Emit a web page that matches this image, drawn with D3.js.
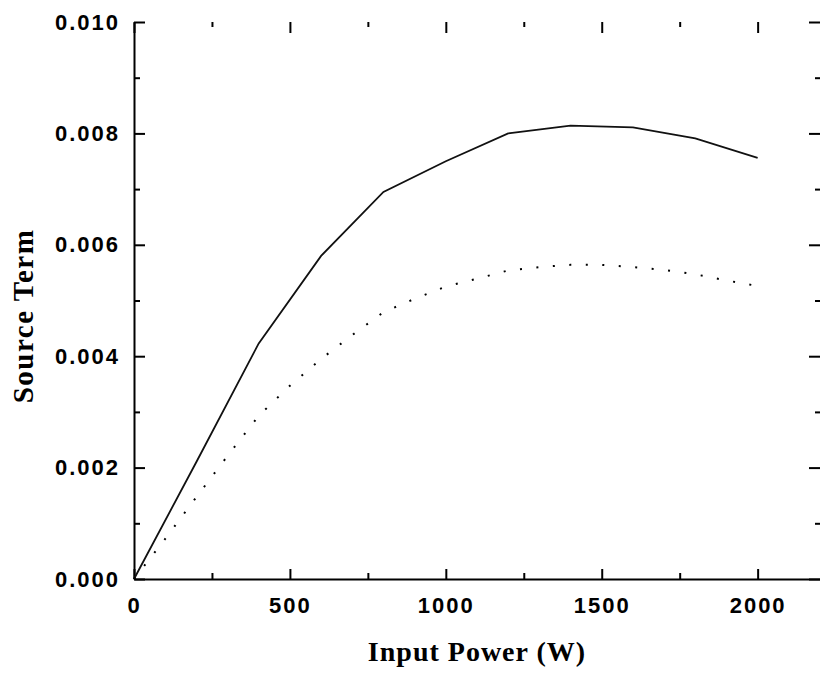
<!DOCTYPE html>
<html>
<head>
<meta charset="utf-8">
<script src="https://cdn.jsdelivr.net/npm/d3@7"></script>
<style>
  body { margin: 0; background: #fff; }
  svg { display: block; }
  .tick text { font-family: "Liberation Sans", Arial, sans-serif; font-weight: bold; font-size: 22px; letter-spacing: 2px; fill: #000; }
  .axis-title { font-family: "Liberation Serif", "Times New Roman", serif; font-weight: bold; fill: #000; }
</style>
</head>
<body>
<svg id="chart" width="820" height="675"></svg>
<script>
// input power (W)
const powerSolid = [0, 200, 400, 600, 800, 1000, 1200, 1400, 1600, 1800, 2000];
const sourceSolid = [0, 0.0021, 0.00423, 0.0058, 0.00695, 0.0075, 0.0080, 0.00814, 0.00811, 0.00791, 0.00756];

const powerDotted = [0, 100, 200, 300, 400, 500, 600, 700, 800, 900, 1000,
  1100, 1200, 1300, 1400, 1500, 1600, 1700, 1800, 1900, 2000];
const sourceDotted = [0, 0.00072, 0.00147, 0.00221, 0.00293, 0.00347, 0.00395, 0.00438, 0.00479, 0.00503, 0.00525,
  0.00539, 0.00554, 0.0056, 0.00564, 0.00564, 0.0056, 0.00555, 0.00547, 0.00536, 0.00526];

const xMajor = [0, 500, 1000, 1500, 2000];
const xMinor = [250, 750, 1250, 1750];
const yMajor = [0, 0.002, 0.004, 0.006, 0.008, 0.010];
const yMinor = [0.001, 0.003, 0.005, 0.007, 0.009];

const plotLeft = 134, plotRight = 820, plotTop = 22, plotBottom = 579;

function createScales() {
  const xScale = d3.scaleLinear().domain([0, 2200]).range([plotLeft, plotRight]);
  const yScale = d3.scaleLinear().domain([0, 0.010]).range([plotBottom, plotTop]);
  return { xScale, yScale };
}

function drawAxes(svg, xScale, yScale) {
  // left axis with labels, ticks point inward
  svg.append("g")
    .attr("class", "y-axis")
    .attr("transform", `translate(${plotLeft},0)`)
    .call(d3.axisLeft(yScale).tickValues(yMajor).tickSize(-11).tickSizeOuter(0)
      .tickPadding(14).tickFormat(d3.format(".3f")));
  svg.append("g")
    .attr("transform", `translate(${plotLeft},0)`)
    .call(d3.axisLeft(yScale).tickValues(yMinor).tickSize(-6).tickFormat(""))
    .call((g) => g.select(".domain").remove());

  // bottom axis
  svg.append("g")
    .attr("class", "x-axis")
    .attr("transform", `translate(0,${plotBottom})`)
    .call(d3.axisBottom(xScale).tickValues(xMajor).tickSize(-10).tickSizeOuter(0)
      .tickPadding(18).tickFormat(d3.format("d")));
  svg.append("g")
    .attr("transform", `translate(0,${plotBottom})`)
    .call(d3.axisBottom(xScale).tickValues(xMinor).tickSize(-6).tickFormat(""))
    .call((g) => g.select(".domain").remove());

  // top ticks only, no line
  svg.append("g")
    .attr("transform", `translate(0,${plotTop})`)
    .call(d3.axisTop(xScale).tickValues(xMajor).tickSize(-11).tickFormat(""))
    .call((g) => g.select(".domain").remove());
  svg.append("g")
    .attr("transform", `translate(0,${plotTop})`)
    .call(d3.axisTop(xScale).tickValues(xMinor).tickSize(-5).tickFormat(""))
    .call((g) => g.select(".domain").remove());

  // right ticks only
  svg.append("g")
    .attr("transform", `translate(${plotRight},0)`)
    .call(d3.axisRight(yScale).tickValues(yMajor).tickSize(-11).tickFormat(""))
    .call((g) => g.select(".domain").remove());
  svg.append("g")
    .attr("transform", `translate(${plotRight},0)`)
    .call(d3.axisRight(yScale).tickValues(yMinor).tickSize(-5).tickFormat(""))
    .call((g) => g.select(".domain").remove());

  svg.selectAll(".domain").attr("stroke", "#000").attr("stroke-width", 2);
  svg.selectAll(".tick line").attr("stroke", "#000").attr("stroke-width", 2);
}

function drawLines(svg, xScale, yScale) {
  const line = d3.line()
    .x((d) => xScale(d[0]))
    .y((d) => yScale(d[1]))
    .curve(d3.curveLinear);

  svg.append("path")
    .datum(d3.zip(powerSolid, sourceSolid))
    .attr("fill", "none")
    .attr("stroke", "#111")
    .attr("stroke-width", 1.8)
    .attr("d", line);

  svg.append("path")
    .datum(d3.zip(powerDotted, sourceDotted))
    .attr("fill", "none")
    .attr("stroke", "#000")
    .attr("stroke-width", 2)
    .attr("stroke-dasharray", "2,14.5")
    .attr("d", line);
}

const svg = d3.select("#chart");
const { xScale, yScale } = createScales();
drawAxes(svg, xScale, yScale);
drawLines(svg, xScale, yScale);

// axis titles
svg.append("text")
  .attr("class", "axis-title")
  .attr("text-anchor", "middle")
  .attr("x", (plotLeft + plotRight) / 2)
  .attr("y", 661)
  .style("font-size", "28px")
  .style("letter-spacing", "1px")
  .text("Input Power (W)");

svg.append("text")
  .attr("class", "axis-title")
  .attr("text-anchor", "middle")
  .attr("transform", "translate(33,316) rotate(-90)")
  .style("font-size", "29px")
  .style("letter-spacing", "1.5px")
  .text("Source Term");
</script>
</body>
</html>
